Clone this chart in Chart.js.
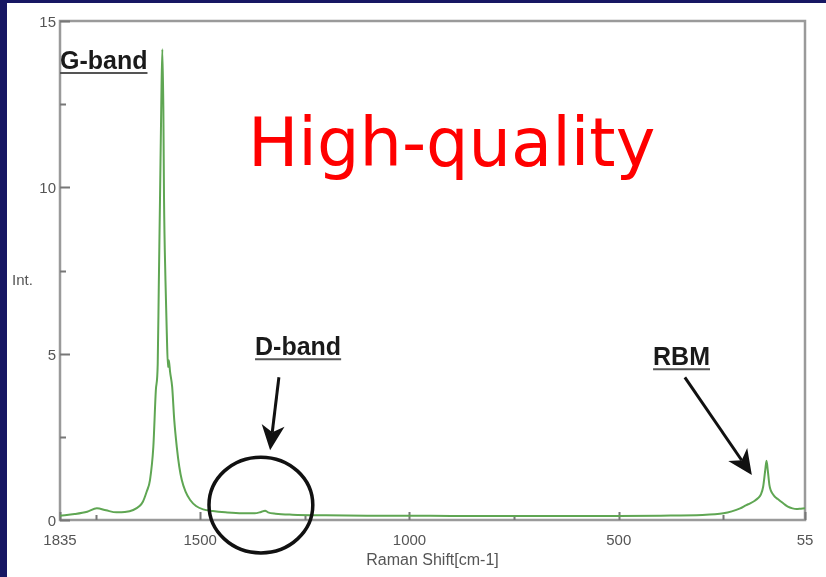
<!DOCTYPE html>
<html>
<head>
<meta charset="utf-8">
<script src="https://cdn.jsdelivr.net/npm/chart.js@4.4.1/dist/chart.umd.min.js"></script>
<style>
  html, body { margin: 0; padding: 0; background: #fff; }
  canvas { display: block; }
</style>
</head>
<body>
<canvas id="spectrum" width="826" height="577"></canvas>
<script>
// Raman spectrum of single-walled carbon nanotubes (wavenumber in cm-1, intensity in a.u.)
const ramanShift = [
  1835, 1800, 1770, 1747, 1725, 1700, 1680, 1660, 1645, 1637, 1628, 1620, 1612, 1606,
  1601.5, 1599, 1596, 1593, 1590.5, 1588, 1586.5, 1583, 1580, 1577, 1575, 1572, 1567,
  1562, 1556, 1550, 1544, 1535, 1524, 1510, 1493, 1470, 1440, 1400, 1370, 1355, 1345,
  1338, 1320, 1280, 1200, 1100, 1000, 900, 800, 700, 600, 500, 400, 300, 270, 250, 230,
  210, 195, 186, 175, 167, 160, 155, 150, 147, 144, 140, 137, 132, 127, 120, 115, 105,
  96, 85, 75, 65, 55
];
const intensity = [
  0.13, 0.18, 0.25, 0.35, 0.29, 0.23, 0.24, 0.30, 0.42, 0.55, 0.85, 1.2, 2.2, 3.9,
  4.7, 7.0, 9.7, 12.5, 14.15, 12.3, 9.7, 7.2, 5.7, 4.6, 4.8, 4.45, 4.0,
  3.0, 2.2, 1.6, 1.2, 0.85, 0.6, 0.42, 0.32, 0.27, 0.23, 0.20, 0.20, 0.24, 0.28,
  0.23, 0.19, 0.16, 0.14, 0.13, 0.13, 0.12, 0.12, 0.12, 0.12, 0.12, 0.13, 0.15, 0.17, 0.20, 0.26,
  0.35, 0.45, 0.50, 0.58, 0.66, 0.78, 1.0, 1.5, 1.78, 1.5, 1.05, 0.9, 0.78, 0.70, 0.63, 0.58, 0.48,
  0.40, 0.35, 0.33, 0.34, 0.35
];

// Axis ticks: labelled ones and short unlabelled ones in between
const xTicksLabelled = [1835, 1500, 1000, 500, 55];
const xTicksMinor = [1750, 1250, 750, 250];
const yTicksLabelled = [0, 5, 10, 15];
const yTicksMinor = [2.5, 7.5, 12.5];

// Band names, placed in data units (shift, intensity of the text baseline)
const bandNames = ['G-band', 'D-band', 'RBM'];
const bandNameShift = [1835, 1369, 418];
const bandNameValue = [13.56, 4.95, 4.65];

// Arrows pointing from the band names to the features (shift, intensity)
const arrowFromShift = [1312, 342];
const arrowFromValue = [4.29, 4.29];
const arrowToShift = [1333, 182];
const arrowToValue = [2.10, 1.35];

// Ring around the D-band region: centre and half-sizes in data units
const ringShift = 1355, ringValue = 0.45, ringHalfShift = 124, ringHalfValue = 1.44;

// Headline
const headline = 'High-quality';
const headlineShift = 1386, headlineValue = 10.65;

const points = ramanShift.map((s, i) => ({ x: s, y: intensity[i] }));

const labelFont = '"Liberation Sans", Arial, sans-serif';

function drawArrow(ctx, x1, y1, x2, y2) {
  const a = Math.atan2(y2 - y1, x2 - x1);
  const L = 25, W = 11.5, N = 7;
  const c = Math.cos(a), s = Math.sin(a);
  const bx = x2 - L * c, by = y2 - L * s;
  const nx = x2 - (L - N) * c, ny = y2 - (L - N) * s;
  ctx.beginPath();
  ctx.moveTo(x1, y1);
  ctx.lineTo(nx, ny);
  ctx.lineWidth = 3;
  ctx.stroke();
  ctx.beginPath();
  ctx.moveTo(x2, y2);
  ctx.lineTo(bx + W * s, by - W * c);
  ctx.lineTo(nx, ny);
  ctx.lineTo(bx - W * s, by + W * c);
  ctx.closePath();
  ctx.fill();
}

const decor = {
  id: 'decor',
  beforeDraw(chart) {
    const { ctx, width, height } = chart;
    ctx.save();
    ctx.fillStyle = '#ffffff';
    ctx.fillRect(0, 0, width, height);
    ctx.fillStyle = '#171763';
    ctx.fillRect(0, 0, 7, height);
    ctx.fillRect(0, 0, width, 3);
    ctx.restore();
  },
  beforeDatasetsDraw(chart) {
    const { ctx, chartArea: a, scales: { x, y } } = chart;
    ctx.save();
    // plot frame
    ctx.strokeStyle = '#9a9a9a';
    ctx.lineWidth = 2.5;
    ctx.strokeRect(a.left, a.top, a.right - a.left, a.bottom - a.top);
    // inward tick marks
    ctx.lineWidth = 2;
    ctx.strokeStyle = '#777';
    ctx.beginPath();
    xTicksLabelled.concat(xTicksMinor).forEach(v => {
      const px = Math.round(x.getPixelForValue(v)) + 0.5;
      const len = xTicksMinor.includes(v) ? 5 : 8;
      ctx.moveTo(px, a.bottom);
      ctx.lineTo(px, a.bottom - len);
    });
    yTicksLabelled.concat(yTicksMinor).forEach(v => {
      const py = Math.round(y.getPixelForValue(v)) + 0.5;
      const len = yTicksMinor.includes(v) ? 6 : 10;
      ctx.moveTo(a.left, py);
      ctx.lineTo(a.left + len, py);
    });
    ctx.stroke();
    // y axis name, written horizontally
    ctx.fillStyle = '#555';
    ctx.font = '15px ' + labelFont;
    ctx.textAlign = 'left';
    ctx.textBaseline = 'middle';
    ctx.fillText('Int.', 12, (a.top + a.bottom) / 2 + 10);
    ctx.restore();
  },
  afterDatasetsDraw(chart) {
    const { ctx, scales: { x, y } } = chart;
    ctx.save();
    // band names, bold and underlined
    ctx.font = 'bold 25px ' + labelFont;
    ctx.textAlign = 'left';
    ctx.textBaseline = 'alphabetic';
    bandNames.forEach((t, i) => {
      const px = x.getPixelForValue(bandNameShift[i]);
      const py = y.getPixelForValue(bandNameValue[i]);
      ctx.fillStyle = '#1a1a1a';
      ctx.fillText(t, px, py);
      const w = ctx.measureText(t).width;
      ctx.strokeStyle = '#555';
      ctx.lineWidth = 2;
      ctx.beginPath();
      ctx.moveTo(px, py + 4);
      ctx.lineTo(px + w, py + 4);
      ctx.stroke();
    });
    // arrows
    ctx.strokeStyle = '#111';
    ctx.fillStyle = '#111';
    arrowFromShift.forEach((s, i) => {
      drawArrow(ctx,
        x.getPixelForValue(s), y.getPixelForValue(arrowFromValue[i]),
        x.getPixelForValue(arrowToShift[i]), y.getPixelForValue(arrowToValue[i]));
    });
    // ring around the D-band
    const cx = x.getPixelForValue(ringShift), cy = y.getPixelForValue(ringValue);
    const rx = Math.abs(x.getPixelForValue(ringShift - ringHalfShift) - cx);
    const ry = Math.abs(y.getPixelForValue(ringValue + ringHalfValue) - cy);
    ctx.beginPath();
    ctx.ellipse(cx, cy, rx, ry, 0, 0, Math.PI * 2);
    ctx.lineWidth = 3.5;
    ctx.strokeStyle = '#111';
    ctx.stroke();
    // headline
    ctx.fillStyle = '#ff0000';
    ctx.font = '67px "DejaVu Sans", Verdana, sans-serif';
    ctx.fillText(headline, x.getPixelForValue(headlineShift), y.getPixelForValue(headlineValue));
    ctx.restore();
  }
};

new Chart(document.getElementById('spectrum'), {
  type: 'line',
  data: {
    datasets: [{
      data: points,
      borderColor: '#5fa653',
      borderWidth: 2,
      pointRadius: 0,
      fill: false,
      cubicInterpolationMode: 'monotone'
    }]
  },
  options: {
    responsive: false,
    animation: false,
    devicePixelRatio: 1,
    layout: { padding: { top: 21, right: 21, left: 0, bottom: 0 } },
    plugins: { legend: { display: false }, tooltip: { enabled: false } },
    scales: {
      x: {
        type: 'linear',
        reverse: true,
        min: 55,
        max: 1835,
        grid: { display: false, drawTicks: false },
        border: { display: false },
        afterBuildTicks: axis => {
          axis.ticks = xTicksLabelled.concat(xTicksMinor).sort((a, b) => b - a).map(v => ({ value: v }));
        },
        afterFit: axis => { axis.height = 57; },
        ticks: {
          autoSkip: false,
          maxRotation: 0,
          padding: 12,
          color: '#555',
          font: { family: labelFont, size: 15 },
          callback: v => xTicksLabelled.includes(v) ? String(v) : ''
        },
        title: {
          display: true,
          text: 'Raman Shift[cm-1]',
          color: '#555',
          font: { family: labelFont, size: 16 },
          padding: { top: 0, bottom: 7 }
        }
      },
      y: {
        type: 'linear',
        min: 0,
        max: 15,
        grid: { display: false, drawTicks: false },
        border: { display: false },
        afterBuildTicks: axis => {
          axis.ticks = yTicksLabelled.concat(yTicksMinor).sort((a, b) => a - b).map(v => ({ value: v }));
        },
        afterFit: axis => { axis.width = 60; },
        ticks: {
          autoSkip: false,
          padding: 4,
          labelOffset: 2,
          color: '#555',
          font: { family: labelFont, size: 15 },
          callback: v => yTicksLabelled.includes(v) ? String(v) : ''
        }
      }
    }
  },
  plugins: [decor]
});
</script>
</body>
</html>
